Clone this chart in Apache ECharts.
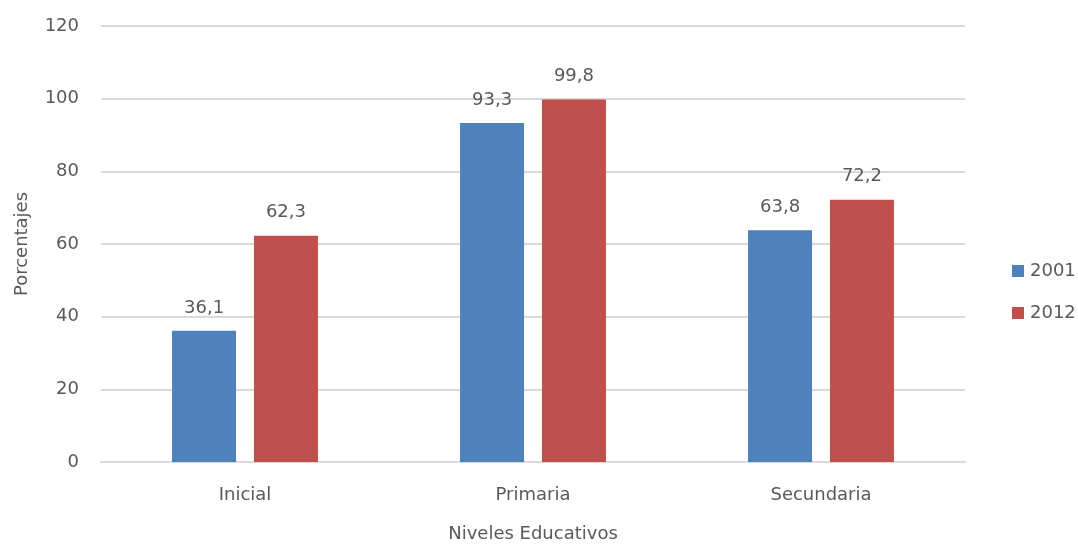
<!DOCTYPE html>
<html>
<head>
<meta charset="utf-8">
<script src="https://cdn.jsdelivr.net/npm/echarts@6/dist/echarts.min.js"></script>
<style>
  html, body { margin: 0; padding: 0; background: #fff; }
  #chart { width: 1078px; height: 548px; }
</style>
</head>
<body>
<div id="chart"></div>
<script>
// Niveles educativos y porcentajes por año
const categories = ['Inicial', 'Primaria', 'Secundaria'];
const seriesNames = ['2001', '2012'];
const values2001 = [36.1, 93.3, 63.8];
const values2012 = [62.3, 99.8, 72.2];
const yTicks = [0, 20, 40, 60, 80, 100, 120];

const FONT = '"DejaVu Sans", "Liberation Sans", sans-serif';
const TEXT = '#595959';
const SIZE = 18;
const fmt = v => String(v).replace('.', ',');

const chart = echarts.init(document.getElementById('chart'), null, { renderer: 'canvas' });

const labelStyle = {
  show: true,
  position: 'top',
  distance: 14,
  color: TEXT,
  fontFamily: FONT,
  fontSize: SIZE,
  formatter: p => fmt(p.value)
};

chart.setOption({
  animation: false,
  textStyle: { fontFamily: FONT },
  grid: { left: 101, width: 864, top: 26, height: 439, containLabel: false },
  legend: {
    orient: 'vertical',
    left: 1007,
    top: 257,
    itemWidth: 12,
    itemHeight: 12,
    itemGap: 24,
    icon: 'rect',
    textStyle: { color: TEXT, fontSize: SIZE, fontFamily: FONT, padding: [0, 0, 0, 1] },
    data: seriesNames
  },
  xAxis: {
    type: 'category',
    data: categories,
    name: 'Niveles Educativos',
    nameLocation: 'middle',
    nameGap: 63,
    nameTextStyle: { color: TEXT, fontSize: SIZE, fontFamily: FONT },
    axisLine: { lineStyle: { color: '#d9d9d9', width: 2 } },
    axisTick: { show: false },
    axisLabel: { color: TEXT, fontSize: SIZE, fontFamily: FONT, margin: 24 }
  },
  yAxis: {
    type: 'value',
    min: yTicks[0],
    max: yTicks[yTicks.length - 1],
    interval: 20,
    name: 'Porcentajes',
    nameLocation: 'middle',
    nameGap: 70,
    nameRotate: 90,
    nameTextStyle: { color: TEXT, fontSize: SIZE, fontFamily: FONT },
    axisLine: { show: false },
    axisTick: { show: false },
    axisLabel: { color: TEXT, fontSize: SIZE, fontFamily: FONT, margin: 22 },
    splitLine: { lineStyle: { color: '#d9d9d9', width: 2 } }
  },
  series: [
    {
      name: seriesNames[0],
      type: 'bar',
      data: values2001,
      barWidth: 64,
      barGap: '28%',
      itemStyle: { color: '#4f81bd' },
      label: labelStyle
    },
    {
      name: seriesNames[1],
      type: 'bar',
      data: values2012,
      barWidth: 64,
      itemStyle: { color: '#c0504d' },
      label: labelStyle
    }
  ]
});
</script>
</body>
</html>
